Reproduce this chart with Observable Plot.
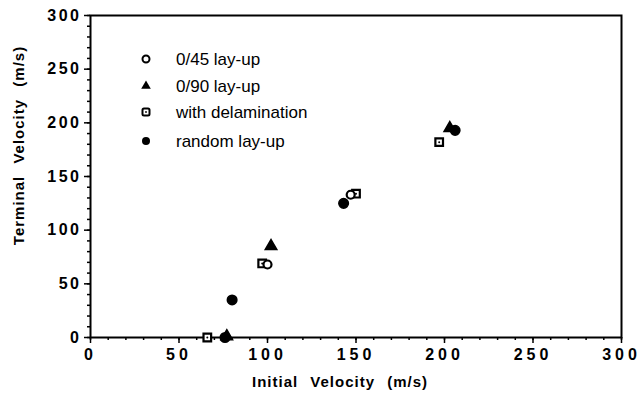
<!DOCTYPE html>
<html>
<head>
<meta charset="utf-8">
<script src="https://cdn.jsdelivr.net/npm/d3@7"></script>
<script src="https://cdn.jsdelivr.net/npm/@observablehq/plot@0.6"></script>
<style>
  html, body { margin: 0; padding: 0; background: #fff; }
  #chart { position: relative; width: 640px; height: 404px; font-family: "Liberation Sans", Arial, sans-serif; }
  #chart svg { display: block; }
  g[aria-label="x-axis tick label"] text { letter-spacing: 4px; }
  g[aria-label="y-axis tick label"] text { letter-spacing: 2.5px; }
  .title { position: absolute; font-weight: bold; font-size: 15px; letter-spacing: 1px; word-spacing: 7px; color: #000; white-space: nowrap; }
</style>
</head>
<body>
<div id="chart"></div>
<script>
// Series (Initial velocity, Terminal velocity), m/s
const layup045X = [100, 147];
const layup045Y = [68, 133];
const layup090X = [77, 102, 203];
const layup090Y = [1, 85, 195];
const delamX = [66, 97, 150, 197];
const delamY = [0, 69, 134, 182];
const randomX = [76, 80, 143, 206];
const randomY = [0, 35, 125, 193];

const seriesNames = ["0/45 lay-up", "0/90 lay-up", "with delamination", "random lay-up"];
const majorTicks = [0, 50, 100, 150, 200, 250, 300];
const minorTicks = [0, 10, 20, 30, 40, 50, 60, 70, 80, 90, 100, 110, 120, 130, 140, 150, 160, 170, 180, 190, 200, 210, 220, 230, 240, 250, 260, 270, 280, 290, 300];

const toRows = (xs, ys) => xs.map((x, i) => ({x, y: ys[i]}));
const d045 = toRows(layup045X, layup045Y);
const d090 = toRows(layup090X, layup090Y);
const dDel = toRows(delamX, delamY);
const dRnd = toRows(randomX, randomY);

const font = {fontFamily: "Liberation Sans, Arial, sans-serif", fontSize: 16, fontWeight: "bold"};

const plot = Plot.plot({
  width: 640,
  height: 404,
  marginLeft: 90,
  marginRight: 19,
  marginTop: 15,
  marginBottom: 67,
  style: {background: "#fff", color: "#000", fontFamily: "Liberation Sans, Arial, sans-serif"},
  x: {domain: [0, 300]},
  y: {domain: [0, 300]},
  marks: [
    Plot.axisX({ticks: minorTicks, tickSize: 3, text: null, strokeWidth: 1.5, label: null}),
    Plot.axisX({ticks: majorTicks, tickSize: 6, tickPadding: 5, strokeWidth: 1.5, label: null, tickFormat: d => String(d), ...font}),
    Plot.axisY({ticks: minorTicks, tickSize: 3, text: null, strokeWidth: 1.5, label: null}),
    Plot.axisY({ticks: majorTicks, tickSize: 6, tickPadding: 3, strokeWidth: 1.5, label: null, tickFormat: d => String(d), ...font}),
    Plot.frame({stroke: "#000", strokeWidth: 2}),
    Plot.dot(dRnd, {x: "x", y: "y", symbol: "circle", r: 4.8, fill: "#000", stroke: "#000"}),
    Plot.dot(d090, {x: "x", y: "y", symbol: "triangle", r: 4.3, fill: "#000", stroke: "#000"}),
    Plot.dot(dDel, {x: "x", y: "y", symbol: "square", r: 4.3, fill: "#fff", stroke: "#000", strokeWidth: 2.2}),
    Plot.dot(dDel, {x: "x", y: "y", r: 1, fill: "#000"}),
    Plot.dot(d045, {x: "x", y: "y", symbol: "circle", r: 4, fill: "#fff", stroke: "#000", strokeWidth: 2.2})
  ]
});

const chart = document.getElementById("chart");
chart.appendChild(plot);

// Legend inside the plot area
const svg = d3.select(plot);
const leg = svg.append("g")
  .attr("font-family", "Liberation Sans, Arial, sans-serif")
  .attr("font-size", 17)
  .attr("text-anchor", "start");
const rowsY = [59, 86, 112, 141];
const symbolX = 146, textX = 176;
seriesNames.forEach((name, i) => {
  const g = leg.append("g").attr("transform", `translate(${symbolX},${rowsY[i]})`);
  if (i === 0) g.append("circle").attr("r", 3.5).attr("fill", "#fff").attr("stroke", "#000").attr("stroke-width", 2);
  if (i === 1) g.append("path").attr("d", d3.symbol(d3.symbolTriangle, 40)()).attr("fill", "#000");
  if (i === 2) {
    g.append("rect").attr("x", -3.5).attr("y", -3.5).attr("width", 7).attr("height", 7).attr("rx", 1.5).attr("fill", "#fff").attr("stroke", "#000").attr("stroke-width", 2);
    g.append("circle").attr("r", 0.9).attr("fill", "#000");
  }
  if (i === 3) g.append("circle").attr("r", 4).attr("fill", "#000");
  leg.append("text").attr("x", textX).attr("y", rowsY[i]).attr("dy", "0.35em").attr("text-anchor", "start").text(name);
});

// Axis titles
const xt = document.createElement("div");
xt.className = "title";
xt.textContent = "Initial Velocity (m/s)";
chart.appendChild(xt);
xt.style.left = (340 - xt.offsetWidth / 2) + "px";
xt.style.top = "373px";

const yt = document.createElement("div");
yt.className = "title";
yt.textContent = "Terminal Velocity (m/s)";
chart.appendChild(yt);
const w = yt.offsetWidth, h = yt.offsetHeight;
yt.style.left = (18 - w / 2) + "px";
yt.style.top = (145 - h / 2) + "px";
yt.style.transform = "rotate(-90deg)";
</script>
</body>
</html>
